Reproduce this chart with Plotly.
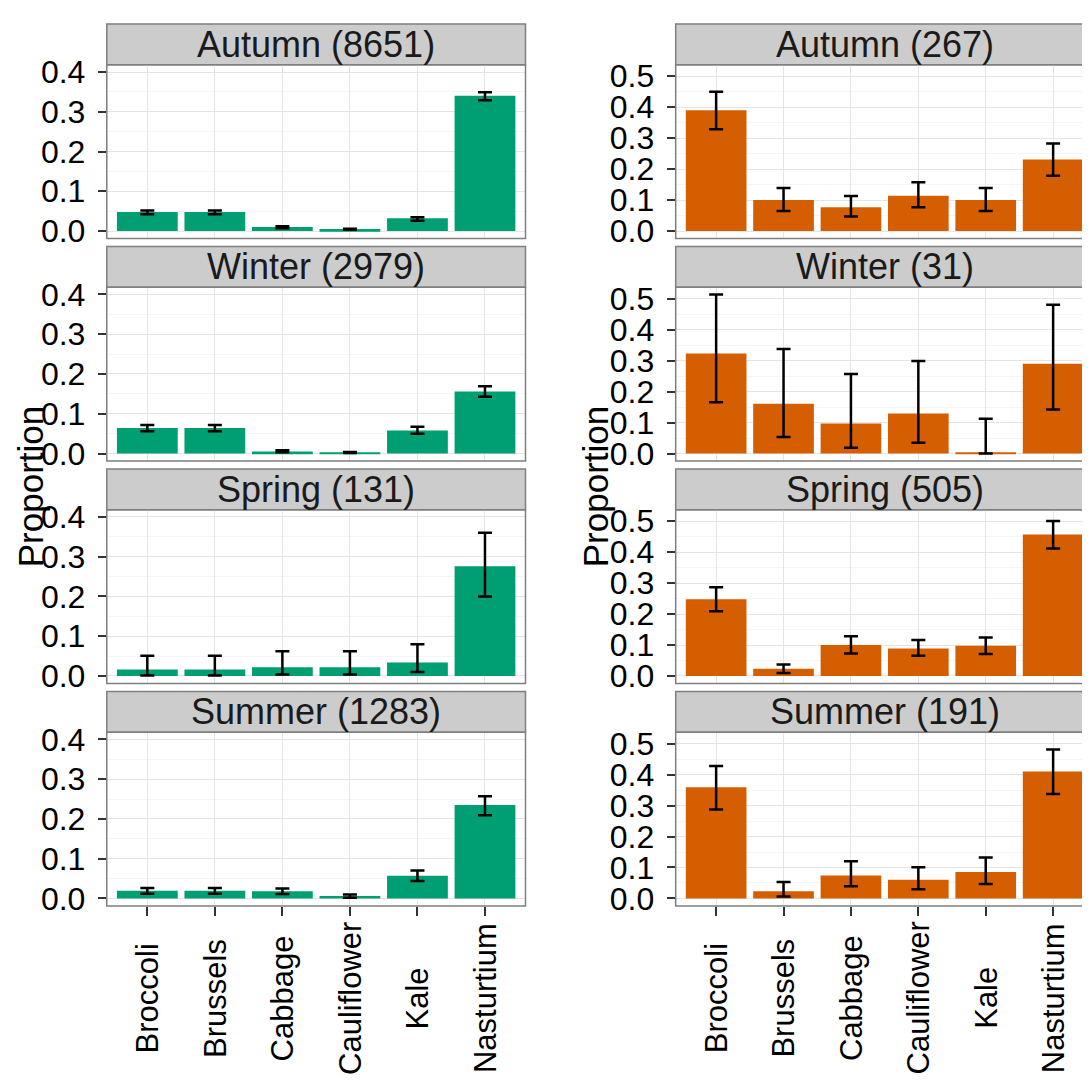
import plotly.graph_objects as go

cats = ["Broccoli", "Brussels", "Cabbage", "Cauliflower", "Kale", "Nasturtium"]
seasons = ["Autumn", "Winter", "Spring", "Summer"]

green_n = [8651, 2979, 131, 1283]
orange_n = [267, 31, 505, 191]

# proportions per season (rows) and category (columns)
green_prop = [
    [0.048, 0.048, 0.010, 0.005, 0.032, 0.340],
    [0.064, 0.064, 0.005, 0.003, 0.058, 0.156],
    [0.016, 0.016, 0.022, 0.022, 0.034, 0.276],
    [0.019, 0.019, 0.018, 0.006, 0.057, 0.235],
]
green_lo = [
    [0.042, 0.042, 0.007, 0.003, 0.026, 0.329],
    [0.056, 0.056, 0.003, 0.001, 0.050, 0.143],
    [0.001, 0.001, 0.004, 0.004, 0.010, 0.200],
    [0.012, 0.012, 0.011, 0.002, 0.044, 0.209],
]
green_hi = [
    [0.052, 0.052, 0.012, 0.006, 0.035, 0.349],
    [0.072, 0.072, 0.008, 0.004, 0.067, 0.169],
    [0.051, 0.051, 0.062, 0.062, 0.080, 0.360],
    [0.026, 0.026, 0.025, 0.010, 0.070, 0.257],
]

orange_prop = [
    [0.390, 0.100, 0.077, 0.114, 0.100, 0.231],
    [0.323, 0.161, 0.097, 0.129, 0.003, 0.290],
    [0.248, 0.023, 0.100, 0.089, 0.098, 0.457],
    [0.359, 0.023, 0.074, 0.060, 0.085, 0.410],
]
orange_lo = [
    [0.329, 0.065, 0.047, 0.077, 0.065, 0.179],
    [0.166, 0.053, 0.019, 0.035, 0.000, 0.142],
    [0.209, 0.010, 0.073, 0.065, 0.071, 0.412],
    [0.287, 0.006, 0.039, 0.030, 0.047, 0.337],
]
orange_hi = [
    [0.450, 0.139, 0.113, 0.158, 0.139, 0.283],
    [0.514, 0.338, 0.257, 0.299, 0.112, 0.481],
    [0.287, 0.037, 0.128, 0.116, 0.124, 0.501],
    [0.428, 0.053, 0.120, 0.101, 0.132, 0.481],
]

# The page body has an 8px default margin, so the figure is made 8px smaller
# and all page positions are converted into figure positions.
OFF = 8
W, H = 1090 - OFF, 1084 - OFF
FONT = "Liberation Sans, Arial, sans-serif"
GREEN = "#009E73"
ORANGE = "#D55E00"


def py(page_px):
    return 1 - (page_px - OFF) / H


def pxx(page_px):
    return (page_px - OFF) / W


fig = go.Figure()
shapes = []
annotations = []

columns = [
    dict(prop=green_prop, lo=green_lo, hi=green_hi, n=green_n, color=GREEN,
         x0=106.8, x1=525.5, xrange=[-0.6, 5.6], yrange=[-0.019, 0.418],
         ticks=[0.0, 0.1, 0.2, 0.3, 0.4], title_x=30),
    dict(prop=orange_prop, lo=orange_lo, hi=orange_hi, n=orange_n, color=ORANGE,
         x0=675.7, x1=1093.6, xrange=[-0.6, 5.547], yrange=[-0.0244, 0.537],
         ticks=[0.0, 0.1, 0.2, 0.3, 0.4, 0.5], title_x=595),
]

k = 0
for ci, col in enumerate(columns):
    for ri, season in enumerate(seasons):
        k += 1
        strip_top = 13.2 + 227.1 * ri
        strip_bot = strip_top + 41.6
        panel_bot = strip_top + 219.0
        vals = col["prop"][ri]
        lo = col["lo"][ri]
        hi = col["hi"][ri]
        fig.add_trace(go.Bar(
            x=cats, y=vals,
            marker=dict(color=col["color"], line=dict(width=0)),
            error_y=dict(type="data", symmetric=False,
                         array=[h - v for h, v in zip(hi, vals)],
                         arrayminus=[v - l for v, l in zip(vals, lo)],
                         color="black", thickness=2.5, width=7),
            xaxis=f"x{k}", yaxis=f"y{k}", showlegend=False,
        ))
        dom_x = [pxx(col["x0"]), min(1.0, pxx(col["x1"]))]
        dom_y = [py(panel_bot), py(strip_bot)]
        bottom = ri == 3
        fig.layout[f"xaxis{k}"] = dict(
            domain=dom_x, anchor=f"y{k}", type="category",
            range=col["xrange"], showgrid=True, gridcolor="#E5E5E5", gridwidth=1,
            showticklabels=False, ticks="outside" if bottom else "",
            ticklen=9, tickwidth=1.5, tickcolor="#333333",
            showline=False, zeroline=False, fixedrange=True,
        )
        fig.layout[f"yaxis{k}"] = dict(
            domain=dom_y, anchor=f"x{k}", range=col["yrange"],
            tickvals=col["ticks"], ticktext=[f"{t:.1f}" for t in col["ticks"]],
            tickfont=dict(family=FONT, size=32, color="black"),
            ticks="outside", ticklen=8, tickwidth=1.5, tickcolor="#333333",
            ticklabelstandoff=6,
            showgrid=True, gridcolor="#E5E5E5", gridwidth=1,
            minor=dict(dtick=0.05, tick0=0, showgrid=True, gridcolor="#F5F5F5",
                       gridwidth=1, ticks=""),
            zeroline=False, showline=False, fixedrange=True,
        )
        # panel border
        shapes.append(dict(type="rect", xref="paper", yref="paper",
                           x0=pxx(col["x0"]), x1=pxx(col["x1"]),
                           y0=py(panel_bot), y1=py(strip_bot),
                           line=dict(color="#7F7F7F", width=1.5),
                           fillcolor="rgba(0,0,0,0)", layer="above"))
        # strip
        shapes.append(dict(type="rect", xref="paper", yref="paper",
                           x0=pxx(col["x0"]), x1=pxx(col["x1"]),
                           y0=py(strip_bot), y1=py(strip_top),
                           line=dict(color="#7F7F7F", width=1.5),
                           fillcolor="#CCCCCC", layer="below"))
        cx = (col["x0"] + col["x1"]) / 2
        annotations.append(dict(
            text=f"{season} ({col['n'][ri]})", xref="paper", yref="paper",
            x=pxx(cx), y=py((strip_top + strip_bot) / 2),
            xanchor="center", yanchor="middle", showarrow=False,
            font=dict(family=FONT, size=36, color="#1A1A1A"),
        ))
        if bottom:
            for c in cats:
                annotations.append(dict(
                    text=c, xref=f"x{k}", yref="paper", x=c, y=py(1007.5),
                    xanchor="center", yanchor="middle", textangle=-90,
                    showarrow=False,
                    font=dict(family=FONT, size=31, color="black"),
                ))
    annotations.append(dict(
        text="Proportion", xref="paper", yref="paper",
        x=pxx(col["title_x"]), y=py(486), xanchor="center", yanchor="middle",
        textangle=-90, showarrow=False, borderpad=0,
        font=dict(family=FONT, size=35, color="black"),
    ))

fig.update_layout(
    width=W, height=H,
    margin=dict(l=0, r=0, t=0, b=0),
    paper_bgcolor="white", plot_bgcolor="white",
    bargap=0.1, shapes=shapes, annotations=annotations,
    font=dict(family=FONT),
)

fig.write_html("out.html", config={"displayModeBar": False})
